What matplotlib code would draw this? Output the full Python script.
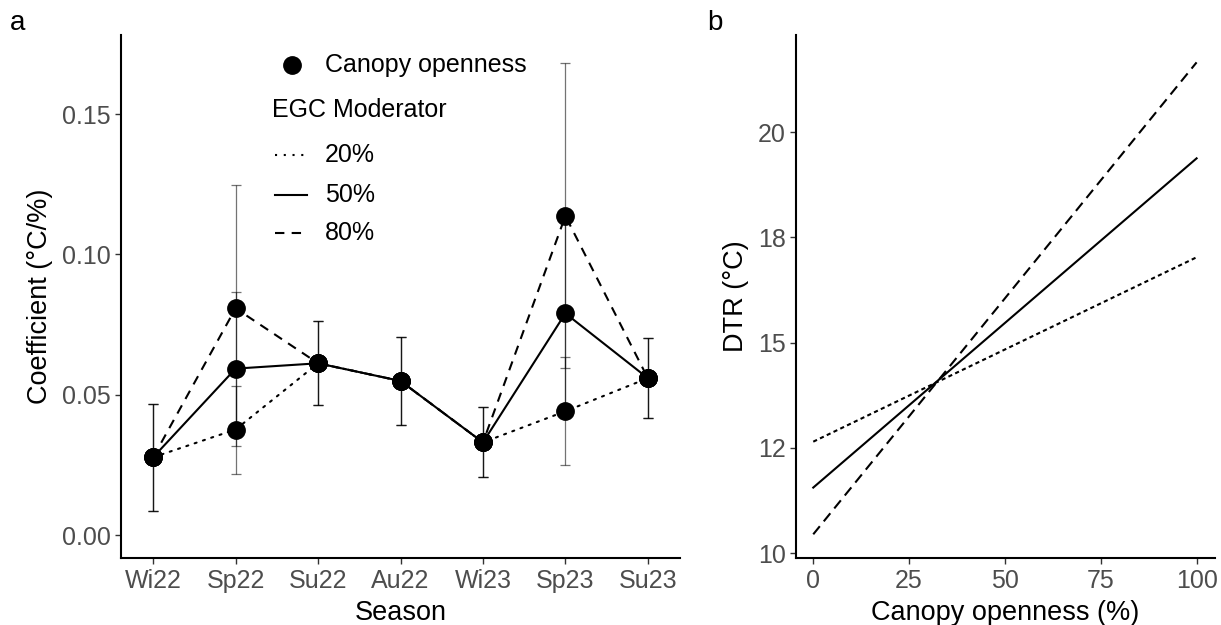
import matplotlib
matplotlib.use("Agg")
import matplotlib.pyplot as plt
from matplotlib.lines import Line2D

plt.rcParams['font.family'] = ['Liberation Sans', 'DejaVu Sans']

# ---------------- data: panel a ----------------
seasons = ["Wi22", "Sp22", "Su22", "Au22", "Wi23", "Sp23", "Su23"]
moderator_labels = ["20%", "50%", "80%"]

coef_20 = [0.0277, 0.0376, 0.0612, 0.0549, 0.0330, 0.0441, 0.0559]
low_20 = [0.0087, 0.0219, 0.0462, 0.0391, 0.0208, 0.0251, 0.0417]
high_20 = [0.0467, 0.0531, 0.0763, 0.0707, 0.0456, 0.0634, 0.0701]

coef_50 = [0.0277, 0.0593, 0.0612, 0.0549, 0.0330, 0.0790, 0.0559]
low_50 = [0.0087, 0.0316, 0.0462, 0.0391, 0.0208, 0.0445, 0.0417]
high_50 = [0.0467, 0.0866, 0.0763, 0.0707, 0.0456, 0.1135, 0.0701]

coef_80 = [0.0277, 0.0808, 0.0612, 0.0549, 0.0330, 0.1137, 0.0559]
low_80 = [0.0087, 0.0372, 0.0462, 0.0391, 0.0208, 0.0595, 0.0417]
high_80 = [0.0467, 0.1246, 0.0763, 0.0707, 0.0456, 0.1683, 0.0701]

a_yticks = [0.00, 0.05, 0.10, 0.15]

# ---------------- data: panel b ----------------
canopy_x = [0, 100]
dtr_20 = [12.65, 17.03]
dtr_50 = [11.56, 19.38]
dtr_80 = [10.45, 21.66]
b_xticks = [0, 25, 50, 75, 100]
b_yticks = [10, 12.5, 15, 17.5, 20]
b_ytick_labels = ["10", "12", "15", "18", "20"]

# ---------------- styles ----------------
W, H = 1221, 625
fig = plt.figure(figsize=(W / 100, H / 100), dpi=100)

def fx(px):
    return px / W

def fy(py):
    return 1 - py / H

ax_a = fig.add_axes([fx(121), fy(558.3), fx(680) - fx(121), fy(35) - fy(558.3)])
ax_b = fig.add_axes([fx(796), fy(558.3), fx(1215) - fx(796), fy(35) - fy(558.3)])

dotted_a = (0, (1, 3.2))
dashed_a = (0, (4.5, 3.5))
lw_main = 1.5
tick_col = "#4D4D4D"

series = [
    (coef_20, low_20, high_20, dotted_a),
    (coef_80, low_80, high_80, dashed_a),
    (coef_50, low_50, high_50, "-"),
]

xpos = list(range(len(seasons)))

for coef, lo, hi, ls in series:
    yerr = [[c - l for c, l in zip(coef, lo)], [h - c for c, h in zip(coef, hi)]]
    ax_a.errorbar(xpos, coef, yerr=yerr, fmt="none", ecolor="black", alpha=0.55,
                  elinewidth=0.9, capsize=3.5, capthick=0.9, zorder=1)

for coef, lo, hi, ls in series:
    ax_a.plot(xpos, coef, color="black", linestyle=ls, linewidth=lw_main,
              dash_capstyle="round" if ls is dotted_a else "butt", zorder=2)

for coef, lo, hi, ls in series:
    ax_a.plot(xpos, coef, linestyle="none", marker="o", markersize=12.5,
              color="black", zorder=3)

ax_a.set_xlim(-0.39, len(seasons) - 1 + 0.39)
ax_a.set_ylim(-0.0083, 0.1782)
ax_a.set_xticks(xpos)
ax_a.set_xticklabels(seasons)
ax_a.set_yticks(a_yticks)
ax_a.set_yticklabels([f"{v:.2f}" for v in a_yticks])
ax_a.set_xlabel("Season", fontsize=19.5, labelpad=5)
ax_a.set_ylabel("Coefficient (°C/%)", fontsize=19.5, labelpad=6)

# ---------------- panel b ----------------
ax_b.plot(canopy_x, dtr_20, color="black", linewidth=lw_main, linestyle=(0, (2, 1.6)))
ax_b.plot(canopy_x, dtr_80, color="black", linewidth=lw_main, linestyle=(0, (5, 3)))
ax_b.plot(canopy_x, dtr_50, color="black", linewidth=lw_main, linestyle="-")
ax_b.set_xlim(-4.5, 104.8)
ax_b.set_ylim(9.88, 22.31)
ax_b.set_xticks(b_xticks)
ax_b.set_xticklabels([str(v) for v in b_xticks])
ax_b.set_yticks(b_yticks)
ax_b.set_yticklabels(b_ytick_labels)
ax_b.set_xlabel("Canopy openness (%)", fontsize=19.5, labelpad=5)
ax_b.set_ylabel("DTR (°C)", fontsize=19.5, labelpad=6)

for ax in (ax_a, ax_b):
    for side in ("top", "right"):
        ax.spines[side].set_visible(False)
    for side in ("left", "bottom"):
        ax.spines[side].set_linewidth(1.5)
        ax.spines[side].set_color("black")
    ax.tick_params(axis="both", length=4.5, width=1.0, color="#333333",
                   labelsize=18, labelcolor=tick_col, pad=3)

# ---------------- legend (panel a) ----------------
leg_fs = 18
fig.add_artist(Line2D([fx(291.7)], [fy(65)], marker="o", markersize=12.5,
                      color="black", linestyle="none", transform=fig.transFigure))
fig.text(fx(325), fy(65), "Canopy openness", fontsize=leg_fs, va="center", ha="left")
fig.text(fx(271.7), fy(110), "EGC Moderator", fontsize=leg_fs, va="center", ha="left")
leg_styles = [dotted_a, "-", dashed_a]
leg_y = [155, 195, 233]
for lab, ls, yy in zip(moderator_labels, leg_styles, leg_y):
    fig.add_artist(Line2D([fx(275), fx(307)], [fy(yy), fy(yy)], color="black",
                          linewidth=lw_main, linestyle=ls, transform=fig.transFigure))
    fig.text(fx(325), fy(yy), lab, fontsize=leg_fs, va="center", ha="left")

# panel letters
fig.text(fx(10), fy(23), "a", fontsize=20, va="center", ha="left")
fig.text(fx(707), fy(23), "b", fontsize=20, va="center", ha="left")

fig.savefig("out.png", dpi=100)
